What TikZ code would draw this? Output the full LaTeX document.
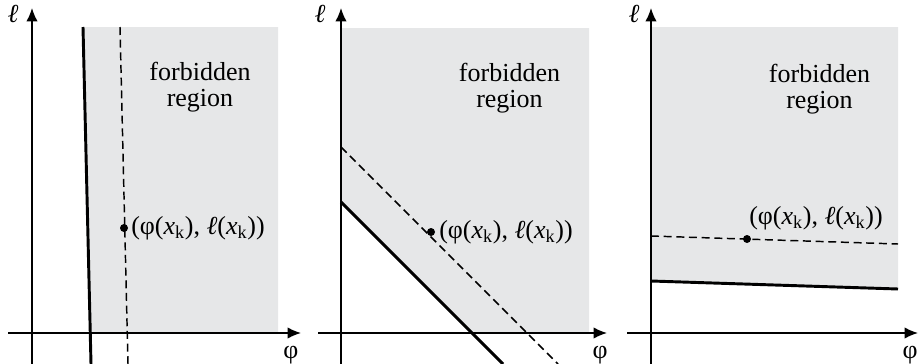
\documentclass[tikz,border=0pt]{standalone}
\usepackage{fontspec}
\setmainfont{Liberation Serif}
\usetikzlibrary{arrows.meta}
\definecolor{forbid}{HTML}{E6E7E8}
\tikzset{
  axis/.style={line width=1.1pt,-{Latex[length=10pt,width=8.5pt]}},
  bound/.style={line width=2.2pt},
  guide/.style={line width=1.1pt,dash pattern=on 6pt off 3.5pt},
  txt/.style={font=\fontsize{19.5}{19.5}\selectfont,inner sep=0pt},
  dot/.style={circle,fill=black,inner sep=0pt,minimum size=6pt}
}
\newcommand{\ptlabel}{(φ(\textit{x}\textsubscript{k}), \textit{ℓ}(\textit{x}\textsubscript{k}))}
\begin{document}
\begin{tikzpicture}[x=0.75pt,y=-0.75pt]
\useasboundingbox (0,0) rectangle (918,364);
% ---------- Panel 1 ----------
\fill[forbid] (83,27) -- (278,27) -- (278,333) -- (90.2,333) -- cycle;
\coordinate (a1t) at (83,27); \coordinate (a1b) at (91,364);
\draw[bound] (a1t) -- (a1b);
\coordinate (d1t) at (120,27); \coordinate (d1b) at (128,364);
\draw[guide] (d1t) -- (d1b);
\coordinate (x1s) at (8,333); \coordinate (x1e) at (301,333);
\coordinate (y1s) at (32,364); \coordinate (y1e) at (32,8);
\draw[axis] (x1s) -- (x1e);
\draw[axis] (y1s) -- (y1e);
\node[txt,anchor=base] (f1) at (200,80) {forbidden};
\node[txt,anchor=base] (r1) at (200,106) {region};
\node[dot] (p1) at (124,228) {};
\node[txt,anchor=base west] (l1) at (131,234) {\ptlabel};
\node[txt,anchor=base] (ell1) at (13,22) {\textit{ℓ}};
\node[txt,anchor=base] (phi1) at (291,358) {φ};
% ---------- Panel 2 ----------
\fill[forbid] (341,28) -- (589,28) -- (589,333) -- (474,333) -- (341,202) -- cycle;
\coordinate (a2t) at (341,202); \coordinate (a2b) at (503,364);
\draw[bound] (a2t) -- (a2b);
\coordinate (d2t) at (341,147); \coordinate (d2b) at (558,364);
\draw[guide] (d2t) -- (d2b);
\coordinate (x2s) at (318,333); \coordinate (x2e) at (607,333);
\coordinate (y2s) at (341,364); \coordinate (y2e) at (341,8);
\draw[axis] (x2s) -- (x2e);
\draw[axis] (y2s) -- (y2e);
\node[txt,anchor=base] (f2) at (509.5,81) {forbidden};
\node[txt,anchor=base] (r2) at (509.5,107) {region};
\node[dot] (p2) at (431,232) {};
\node[txt,anchor=base west] (l2) at (439,238) {\ptlabel};
\node[txt,anchor=base] (ell2) at (320,22) {\textit{ℓ}};
\node[txt,anchor=base] (phi2) at (600,358) {φ};
% ---------- Panel 3 ----------
\fill[forbid] (651,27) -- (898,27) -- (898,289) -- (651,281) -- cycle;
\coordinate (a3t) at (651,281); \coordinate (a3b) at (898,289);
\draw[bound] (a3t) -- (a3b);
\coordinate (d3t) at (651,236); \coordinate (d3b) at (898,244);
\draw[guide] (d3t) -- (d3b);
\coordinate (x3s) at (627,333); \coordinate (x3e) at (918,333);
\coordinate (y3s) at (651,364); \coordinate (y3e) at (651,8);
\draw[axis] (x3s) -- (x3e);
\draw[axis] (y3s) -- (y3e);
\node[txt,anchor=base] (f3) at (819.5,82) {forbidden};
\node[txt,anchor=base] (r3) at (819.5,108) {region};
\node[dot] (p3) at (747,239) {};
\node[txt,anchor=base west] (l3) at (749,224) {\ptlabel};
\node[txt,anchor=base] (ell3) at (634,22) {\textit{ℓ}};
\node[txt,anchor=base] (phi3) at (910,358) {φ};
\end{tikzpicture}
\end{document}
